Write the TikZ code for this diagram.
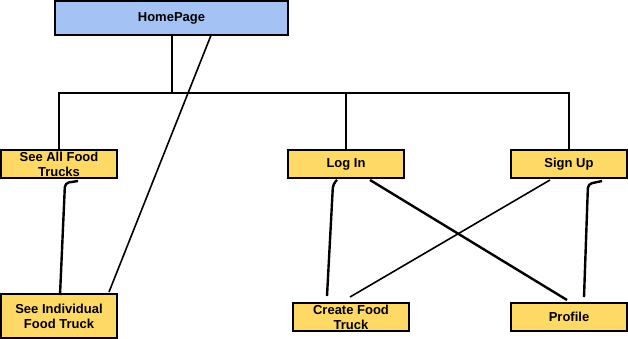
\documentclass[tikz,border=0pt]{standalone}
\usepackage{fontspec}
\setmainfont{Liberation Sans}
\usetikzlibrary{calc}
\definecolor{homeblue}{HTML}{A4C2F4}
\definecolor{pageyellow}{HTML}{FFD966}

\begin{document}
\begin{tikzpicture}[x=1pt,y=-1pt,
  page/.style={draw, line width=2pt, fill=pageyellow, minimum width=116pt,
    minimum height=28pt, inner sep=0pt, align=center,
    font=\fontsize{13}{15}\selectfont\bfseries},
  tree/.style={line width=2pt},
  link/.style={line width=1.6pt},
  heavy/.style={line width=2.4pt, rounded corners=4pt}]
  \useasboundingbox (0,0) rectangle (628,339);
  % pages
  \node[page, fill=homeblue, minimum width=233pt, minimum height=34pt] (home) at (171.5,18) {HomePage};
  \node[page] (all) at (59,164) {See All Food\\Trucks};
  \node[page] (login) at (346,164) {Log In};
  \node[page] (signup) at (569,164) {Sign Up};
  \node[page, minimum height=44pt] (indiv) at (59,316) {See Individual\\Food Truck};
  \node[page] (create) at (351,317) {Create Food\\Truck};
  \node[page] (profile) at (569,317) {Profile};
  % menu tree
  \coordinate (bus) at (172,93);
  \draw[tree] (home.south) -- (home.south |- bus);
  \draw[tree] (all.north) |- (bus) -| (signup.north);
  \draw[tree] (login.north) -- (login.north |- bus);
  % links between pages
  \draw[link] ($(home.south)+(40,-2)$) -- ($(indiv.north)+(50,-1)$);
  \draw[heavy] ($(all.south)+(19,2)$) -- ($(all.south)+(6,4)$) -- ($(indiv.north)+(1,2)$);
  \draw[heavy] ($(login.south)+(-9,1)$) -- ($(login.south)+(-13,5)$) -- ($(create.north)+(-24,-6)$);
  \draw[heavy] ($(login.south)+(24,1)$) -- ($(profile.north)+(-2,-2)$);
  \draw[link] ($(signup.south)+(-19,1)$) -- ($(create.north)+(-1,-5)$);
  \draw[heavy] ($(signup.south)+(33,2)$) -- ($(signup.south)+(19,5)$) -- ($(profile.north)+(15,-5)$);
\end{tikzpicture}
\end{document}
